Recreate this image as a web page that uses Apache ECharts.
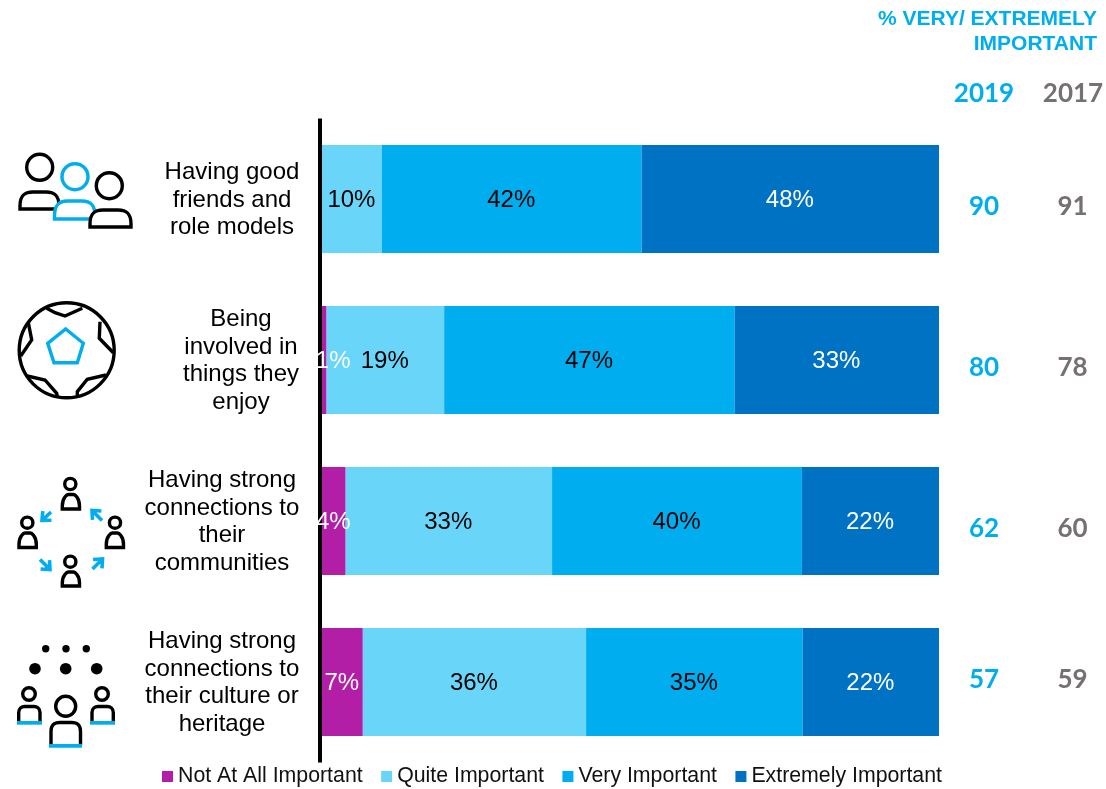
<!DOCTYPE html>
<html><head><meta charset="utf-8">
<style>html,body{margin:0;padding:0;background:#fff}#c{width:1106px;height:789px}</style>
<script src="https://cdn.jsdelivr.net/npm/echarts@6/dist/echarts.min.js"></script></head>
<body><div id="c"></div>
<script>
const categories = ['Having good\nfriends and\nrole models','Being\ninvolved in\nthings they\nenjoy','Having strong\nconnections to\ntheir\ncommunities','Having strong\nconnections to\ntheir culture or\nheritage'];
const notAtAll = [0, 0.7, 3.8, 6.6];
const quite = [9.7, 19.1, 33.49, 36.2];
const very = [42.1, 47.1, 40.49, 35.1];
const extremely = [48.2, 33.1, 22.22, 22.1];
const values2019 = ['90','80','62','57'];
const values2017 = ['91','78','60','59'];
const BLUE='#00AEEF', GREY='#767171', K='#000';
const FONT='"Liberation Sans",Arial,sans-serif', NUM='Lato,sans-serif';
const labelWidths=[134,116,154,154];
const rich={}; labelWidths.forEach((w,i)=>rich['r'+i]={width:w,align:'center',fontSize:24,lineHeight:27.5,fontFamily:FONT,color:K});

function lab(color,extra){return Object.assign({show:true,position:'inside',offset:[-0.5,1],color:color,fontSize:24,fontFamily:FONT,
  formatter:p=>p.value>0?Math.round(p.value)+'%':''},extra||{});}
function ser(name,data,color,lc){return {name,type:'bar',stack:'t',barWidth:108,data,itemStyle:{color},label:lab(lc),emphasis:{disabled:true},z:3};}

// icon helpers
const LW=3.4;
const sw={stroke:K,lineWidth:LW,fill:null};
const sb={stroke:BLUE,lineWidth:LW,fill:null};
const c=(x,y,r,st)=>({type:'circle',shape:{cx:x,cy:y,r},style:Object.assign({},st)});
const dot=(x,y,r)=>({type:'circle',shape:{cx:x,cy:y,r},style:{fill:K}});
let shapeN=0;
const p=(d,st)=>{const name='iconPath'+(shapeN++);echarts.graphic.registerShape(name,echarts.graphic.extendPath(d,{}));return {type:name,style:Object.assign({},st)};};
const body=(a,b,t,e,st,round)=>{const r=round||13;return p(`M${a} ${e}L${b} ${e}L${b} ${e-3}C${b} ${t+3} ${b-5} ${t} ${b-r} ${t}L${a+r} ${t}C${a+5} ${t} ${a} ${t+3} ${a} ${e-3}Z`,st);};
const openBody=(a,b,t,e,r)=>p(`M${a} ${e}L${a} ${t+r}C${a} ${t+2} ${a+3} ${t} ${a+r} ${t}L${b-r} ${t}C${b-3} ${t} ${b} ${t+2} ${b} ${t+r}L${b} ${e}`,sw);
const person=(hx,hy,a,b,t,e)=>[c(hx,hy,5.6,sw),body(a,b,t,e,sw,6)];
const arrow=(x1,y1,x2,y2)=>{const dx=x2-x1,dy=y2-y1,L=Math.hypot(dx,dy),ux=dx/L,uy=dy/L,h=7;
  const ax=x2-h*ux-h*uy*0.9,ay=y2-h*uy+h*ux*0.9,bx=x2-h*ux+h*uy*0.9,by=y2-h*uy-h*ux*0.9;
  return p(`M${x1} ${y1}L${x2} ${y2}M${ax} ${ay}L${x2} ${y2}L${bx} ${by}`,Object.assign({},sb,{lineWidth:3.6}));};
const fw=(x,y,w,h,f)=>({type:'rect',shape:{x,y,width:w,height:h},style:{fill:f}});

const icons=[
 // friends
 c(39.7,167.3,13,sw), c(75,176.7,13,sb), c(109.3,185.7,13,sw),
 body(20,59,192,209,sw),
 body(54.5,95,201,219,{stroke:BLUE,lineWidth:LW,fill:'#fff'}),
 body(90,131,210,227,{stroke:K,lineWidth:LW,fill:'#fff'}),
 // ball
 c(66.7,350.3,47.5,sw),
 p('M65.7 329L83.3 343.3L77.3 362.7L54 362.7L47.7 343.3Z',sb),
 p('M46.7 308.3L55 312.7L65 316L82.3 308.3',sw),
 p('M28.3 322.7L31.7 340L20.7 356',sw),
 p('M100 321.7L99.3 338.3L113.3 352.7',sw),
 p('M27.3 376L45 380L56.7 393.3L57.3 396.7',sw),
 p('M106 375L87.3 379.3L77.3 391.7L77.3 396.7',sw),
 // connections
 ...person(70.3,484,62.3,79.5,494.5,509),
 ...person(27.3,522.7,19,36.3,533,547.5),
 ...person(115,522.7,106.3,123.5,533,547.5),
 ...person(70.3,561.7,62.3,79.5,572,586),
 arrow(51,512,42,520.5), arrow(102,520.5,92,510.5), arrow(40,559.5,50,569.5), arrow(92.5,569,102.5,559),
 // culture
 dot(45.7,648.7,3.7),dot(66,648.7,3.7),dot(86.3,648.7,3.7),
 dot(35,668.7,5.8),dot(65.7,668.7,5.8),dot(96.7,668.7,5.8),
 c(29,694,6.3,sw), openBody(18.7,40,706.5,722,6), fw(17,721,25,3.7,BLUE),
 c(102,694,6.3,sw), openBody(92,113.3,706.5,722,6), fw(90,721,25,3.7,BLUE),
 c(65.7,706.3,10,sw), openBody(51,80.5,722.5,745,9), fw(49,744,33,3.7,BLUE),
];
const txt=(x,y,t,f,col,sz,al,w)=>({type:'text',x,y,style:{text:t,fill:col,fontFamily:f,fontSize:sz,fontWeight:w||'bold',align:al||'center',verticalAlign:'middle'}});
const rowY=[207,368,529,680];
const texts=[
 txt(1097,19,'% VERY/ EXTREMELY',FONT,BLUE,21,'right'),
 txt(1097,44,'IMPORTANT',FONT,BLUE,21,'right'),
 txt(984,94,'2019',NUM,BLUE,26),
 txt(1073,94,'2017',NUM,GREY,26),
 ...values2019.map((v,i)=>txt(984,rowY[i],v,NUM,BLUE,26)),
 ...values2017.map((v,i)=>txt(1072.5,rowY[i],v,NUM,GREY,26)),
];

const chart=echarts.init(document.getElementById('c'),null,{renderer:'canvas'});
const s0=ser('Not At All Important',notAtAll.map((v,i)=>i===1?{value:v,label:{offset:[9,1]}}:v),'#B31EA6','#fff');
s0.z=4;
chart.setOption({
 animation:false,
 backgroundColor:'#fff',
 grid:{left:322,right:167,top:118.5,height:644,containLabel:false},
 xAxis:{type:'value',min:0,max:100,show:false},
 yAxis:{type:'category',inverse:true,data:categories,offset:2,
  axisLine:{show:true,onZero:false,lineStyle:{color:K,width:4,cap:'butt'}},axisTick:{show:false},
  axisLabel:{interval:0,margin:21,align:'right',rich,padding:[2,0,0,0],
   formatter:(v,i)=>v.split('\n').map(l=>`{r${i}|${l}}`).join('\n')}},
 legend:{left:157,top:761,icon:'rect',itemWidth:11,itemHeight:11,itemGap:18.5,selectedMode:false,
  textStyle:{fontFamily:FONT,fontSize:21.3,color:'#111',padding:0},
  data:['Not At All Important','Quite Important','Very Important','Extremely Important']},
 series:[s0,ser('Quite Important',quite,'#69D5F9','#000'),ser('Very Important',very,BLUE,'#000'),ser('Extremely Important',extremely,'#0072C3','#fff')],
 graphic:[...icons,...texts]
});
</script></body></html>
